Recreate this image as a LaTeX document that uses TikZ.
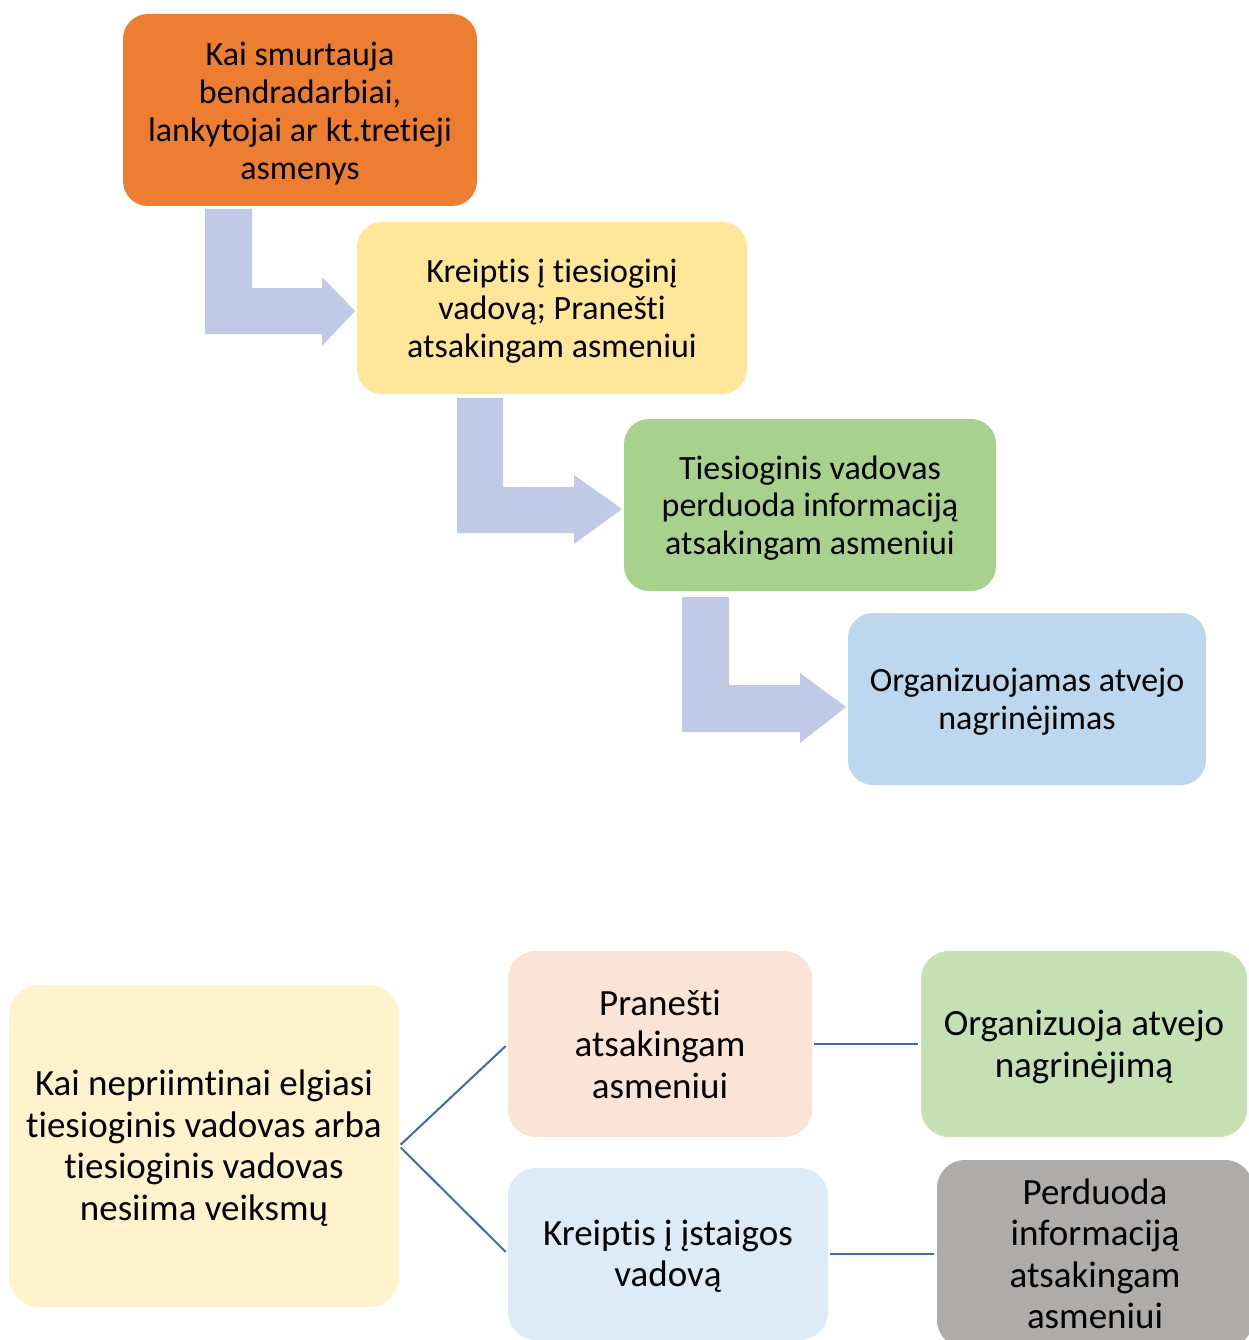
\documentclass[tikz,border=0pt]{standalone}
\usepackage{fontspec}
\setmainfont{Carlito}[RawFeature={-liga;-clig;-calt}]
\definecolor{cOrange}{HTML}{ED7D31}
\definecolor{cYellow}{HTML}{FFE699}
\definecolor{cGreen}{HTML}{A9D18E}
\definecolor{cBlue}{HTML}{BDD7EE}
\definecolor{cArrow}{HTML}{C0C9E5}
\definecolor{cLYellow}{HTML}{FFF2CC}
\definecolor{cPink}{HTML}{FBE4D5}
\definecolor{cLBlue}{HTML}{DDEBF7}
\definecolor{cLGreen}{HTML}{C5E0B3}
\definecolor{cGray}{HTML}{AEABAB}
\definecolor{cLine}{HTML}{4068B4}
\begin{document}
\begin{tikzpicture}[x=1pt,y=-1pt,
  box/.style={rounded corners=25pt, inner sep=0pt},
  botbox/.style={box, rounded corners=28pt},
  toptext/.style={align=center, text=black, inner sep=0pt, font=\fontsize{34}{37.7}\selectfont},
  bottext/.style={align=center, text=black, inner sep=0pt, font=\fontsize{37}{41.5}\selectfont},
  bentarrow/.style={fill=cArrow, draw=none},
  link/.style={draw=cLine, line width=2pt, shorten <=2pt, shorten >=3pt}]
\clip (0,0) rectangle (1249,1340);
\fill[white] (0,0) rectangle (1249,1340);

% top flow
\node[box, fill=cOrange, minimum width=354pt, minimum height=192pt] (b1) at (300,110) {};
\node[toptext] (t1) at ([yshift=-3.5pt]b1.center)
  {Kai smurtauja\\bendradarbiai,\\lankytojai ar kt.tretieji\\asmenys};
\node[box, fill=cYellow, minimum width=390pt, minimum height=172pt] (b2) at (552,308) {};
\node[toptext] (t2) at ([yshift=-3pt]b2.center)
  {Kreiptis į tiesioginį\\vadovą; Pranešti\\atsakingam asmeniui};
\node[box, fill=cGreen, minimum width=372pt, minimum height=172pt] (b3) at (810,505) {};
\node[toptext] (t3) at ([yshift=-3pt]b3.center)
  {Tiesioginis vadovas\\perduoda informaciją\\atsakingam asmeniui};
\node[box, fill=cBlue, minimum width=358pt, minimum height=172pt] (b4) at (1027,699) {};
\node[toptext] (t4) at ([yshift=-3pt]b4.center)
  {Organizuojamas atvejo\\nagrinėjimas};

\fill[bentarrow] (205,209) -- (252,209) -- (252,288) -- (322,288) -- (322,277) -- (355,311)
  -- (322,346) -- (322,334) -- (205,334) -- cycle;
\fill[bentarrow] (457,398) -- (503,398) -- (503,487) -- (574,487) -- (574,475) -- (622,509)
  -- (574,544) -- (574,533) -- (457,533) -- cycle;
\fill[bentarrow] (682,597) -- (729,597) -- (729,685) -- (800,685) -- (800,673) -- (846,707)
  -- (800,743) -- (800,732) -- (682,732) -- cycle;

% bottom tree
\node[botbox, fill=cLYellow, rounded corners=30pt, minimum width=390pt, minimum height=322pt] (L) at (204,1146) {};
\node[bottext] (tL) at ([yshift=-2pt]L.center)
  {Kai nepriimtinai elgiasi\\tiesioginis vadovas arba\\tiesioginis vadovas\\nesiima veiksmų};
\node[botbox, fill=cPink, minimum width=304pt, minimum height=186pt] (P) at (660,1044) {};
\node[bottext] (tP) at (P.center) {Pranešti\\atsakingam\\asmeniui};
\node[botbox, fill=cLBlue, minimum width=320pt, minimum height=172pt] (Q) at (668,1254) {};
\node[bottext] (tQ) at ([yshift=-2pt]Q.center) {Kreiptis į įstaigos\\vadovą};
\node[botbox, fill=cLGreen, minimum width=326pt, minimum height=186pt] (G) at (1084,1044) {};
\node[bottext] (tG) at ([yshift=-3pt]G.center) {Organizuoja atvejo\\nagrinėjimą};
\node[botbox, fill=cGray, minimum width=316pt, minimum height=188pt] (R) at (1095,1254) {};
\node[bottext] (tR) at (R.center) {Perduoda\\informaciją\\atsakingam\\asmeniui};

\draw[link] (L.east) -- (P.west);
\draw[link] (L.east) -- (Q.west);
\draw[link] (P.east) -- (G.west);
\draw[link] (Q.east) -- (R.west);
\end{tikzpicture}
\end{document}
